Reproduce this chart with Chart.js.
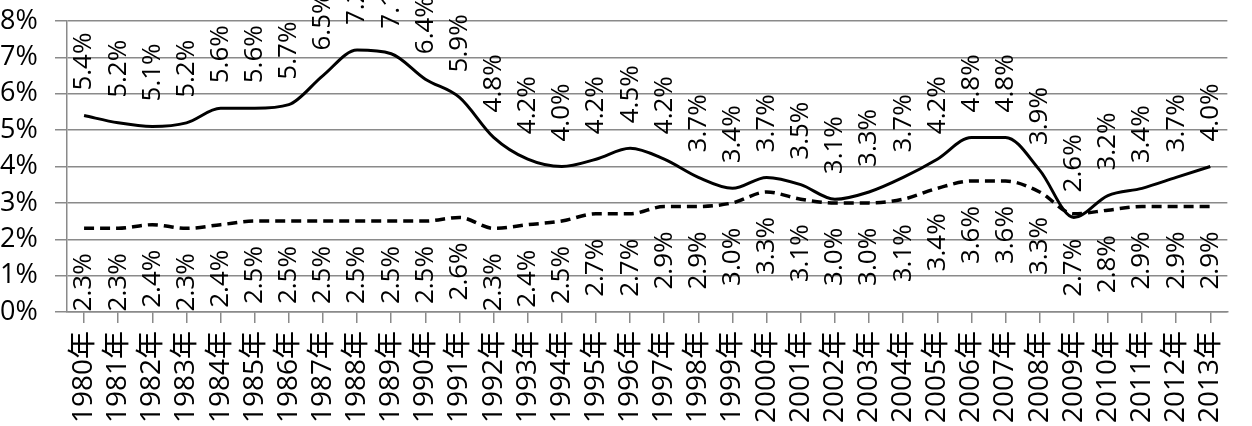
<!DOCTYPE html>
<html>
<head>
<meta charset="utf-8">
<style>
    html, body { margin: 0; padding: 0; background: #ffffff; }
    #wrap { width: 1252px; height: 426px; position: relative; }
</style>
<script src="https://cdn.jsdelivr.net/npm/chart.js@4/dist/chart.umd.min.js"></script>
</head>
<body>
<div id="wrap"><canvas id="chart"></canvas></div>
<script>
var years = ["1980年", "1981年", "1982年", "1983年", "1984年", "1985年", "1986年", "1987年", "1988年", "1989年",
    "1990年", "1991年", "1992年", "1993年", "1994年", "1995年", "1996年", "1997年", "1998年", "1999年",
    "2000年", "2001年", "2002年", "2003年", "2004年", "2005年", "2006年", "2007年", "2008年", "2009年",
    "2010年", "2011年", "2012年", "2013年"];

var upperValues = [5.4, 5.2, 5.1, 5.2, 5.6, 5.6, 5.7, 6.5, 7.2, 7.1,
    6.4, 5.9, 4.8, 4.2, 4.0, 4.2, 4.5, 4.2, 3.7, 3.4,
    3.7, 3.5, 3.1, 3.3, 3.7, 4.2, 4.8, 4.8, 3.9, 2.6,
    3.2, 3.4, 3.7, 4.0];

var lowerValues = [2.3, 2.3, 2.4, 2.3, 2.4, 2.5, 2.5, 2.5, 2.5, 2.5,
    2.5, 2.6, 2.3, 2.4, 2.5, 2.7, 2.7, 2.9, 2.9, 3.0,
    3.3, 3.1, 3.0, 3.0, 3.1, 3.4, 3.6, 3.6, 3.3, 2.7,
    2.8, 2.9, 2.9, 2.9];

var yTicks = [0, 1, 2, 3, 4, 5, 6, 7, 8];

(function () {
    "use strict";

    var gridColor = "#8a8a8a";

    // rotated value labels, drawn next to each point of the two lines
    var valueLabels = {
        id: "valueLabels",
        afterDatasetsDraw: function (chart) {
            var ctx = chart.ctx;
            var area = chart.chartArea;

            ctx.save();
            ctx.beginPath();
            ctx.rect(0, 0, chart.width, area.bottom);
            ctx.clip();
            ctx.fillStyle = "#000000";
            ctx.font = "26px 'Open Sans'";
            ctx.textBaseline = "middle";

            chart.data.datasets.forEach(function (dataset, index) {
                var meta = chart.getDatasetMeta(index);
                var above = dataset.labelSide === "above";

                meta.data.forEach(function (point, i) {
                    var text = dataset.data[i].toFixed(1) + "%";
                    ctx.save();
                    ctx.translate(point.x, point.y);
                    ctx.rotate(-Math.PI / 2);
                    if (above) {
                        ctx.textAlign = "left";
                        ctx.fillText(text, 25, 0);
                    } else {
                        ctx.textAlign = "right";
                        ctx.fillText(text, -25, 0);
                    }
                    ctx.restore();
                });
            });

            ctx.restore();
        }
    };

    new Chart(document.getElementById("chart").getContext("2d"), {
        type: "line",
        data: {
            labels: years,
            datasets: [
                {
                    data: upperValues,
                    labelSide: "above",
                    borderColor: "#000000",
                    borderWidth: 3,
                    cubicInterpolationMode: "monotone",
                    pointRadius: 0,
                    fill: false
                },
                {
                    data: lowerValues,
                    labelSide: "below",
                    borderColor: "#000000",
                    borderWidth: 3.5,
                    borderDash: [10, 6],
                    cubicInterpolationMode: "monotone",
                    pointRadius: 0,
                    fill: false
                }
            ]
        },
        options: {
            responsive: true,
            maintainAspectRatio: false,
            animation: false,
            events: [],
            layout: {
                padding: { top: 21, right: 7, left: 0, bottom: 0 }
            },
            plugins: {
                legend: { display: false },
                tooltip: { enabled: false }
            },
            scales: {
                x: {
                    offset: true,
                    grid: {
                        display: true,
                        drawOnChartArea: false,
                        drawTicks: true,
                        tickLength: 11,
                        color: gridColor,
                        lineWidth: 1.5
                    },
                    border: { display: true, color: gridColor, width: 1.5 },
                    ticks: {
                        autoSkip: false,
                        minRotation: 90,
                        maxRotation: 90,
                        padding: 8,
                        color: "#000000",
                        font: { family: "'Open Sans', 'Noto Sans CJK SC'", size: 28 }
                    },
                    afterFit: function (scale) {
                        scale.height = 114;
                    }
                },
                y: {
                    min: 0,
                    max: 8,
                    afterBuildTicks: function (scale) {
                        scale.ticks = yTicks.map(function (v) {
                            return { value: v };
                        });
                    },
                    grid: {
                        color: gridColor,
                        lineWidth: 1.5,
                        drawTicks: true,
                        tickLength: 12
                    },
                    border: { display: true, color: gridColor, width: 1.5 },
                    ticks: {
                        padding: 2,
                        crossAlign: "far",
                        color: "#000000",
                        font: { family: "'Open Sans'", size: 27 },
                        callback: function (value) {
                            return value + "%";
                        }
                    },
                    afterFit: function (scale) {
                        scale.width = 67;
                    }
                }
            }
        },
        plugins: [valueLabels]
    });
})();
</script>
</body>
</html>
